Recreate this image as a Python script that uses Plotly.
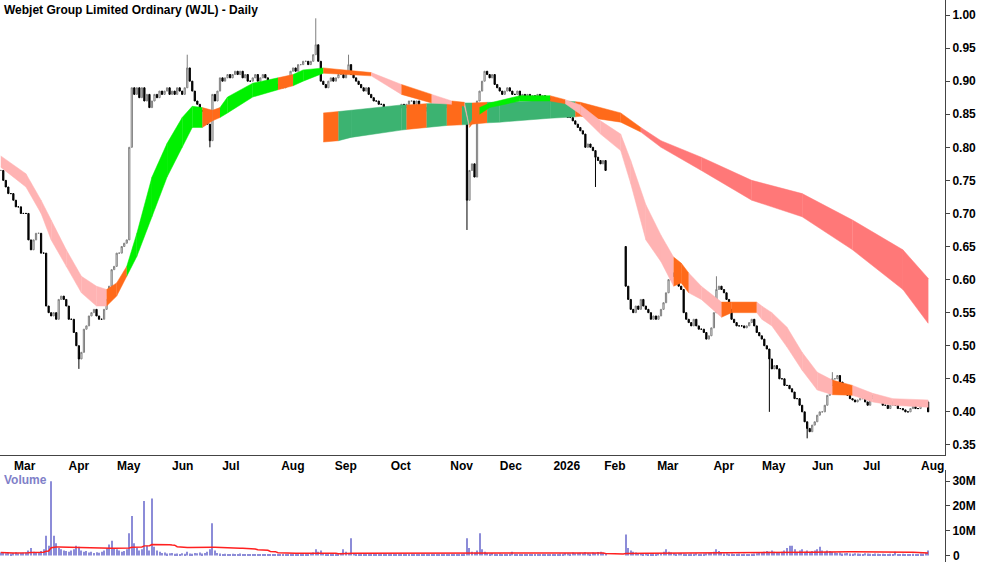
import pandas as pd
import plotly.graph_objects as go

TITLE = "Webjet Group Limited Ordinary (WJL) - Daily"

# daily closes, one row per 10 trading days (None = trading halt)
close = [
    .765, .75, .74, .73, .73, .72, .71, .71, .70, .70,
    .70, .66, .645, .66, .67, .67, .64, .64, .56, .55,
    .545, .55, .54, .57, .575, .57, .56, .54, .54, .52,
    .50, .48, .49, .525, .53, .545, .55, .555, .545, .54,
    .54, .555, .57, .59, .615, .62, .64, .64, .65, .655,
    .66, .80, .89, .88, .89, .875, .89, .87, .88, .86,
    .87, .88, .875, .885, .88, .885, .89, .88, .885, .88,
    .89, .885, .88, .89, .92, .90, .885, .87, .865, .855,
    .855, .845, .835, .81, .88, .87, .885, .905, .90, .905,
    .91, .905, .91, .915, .91, .915, .905, .91, .90, .90,
    .905, .91, .90, .905, .91, .905, .90, .895, .90, .895,
    .89, .895, .89, .895, .905, .915, .92, .915, .925, .925,
    .93, .93, .925, .93, .94, .955, .93, .90, .895, .89,
    .90, .905, .90, .905, .91, .91, .905, .915, .925, .91,
    .905, .90, .895, .89, .885, .89, .88, .875, .87, .87,
    .865, .865, .86, .86, .855, .85, .85, .855, .86, .865,
    .86, .865, .87, .87, .865, .87, .86, .86, .855, .86,
    .855, .855, .86, .855, .86, .865, .86, .865, .86, .865,
    .86, .855, .86, .865, .86, .72, .765, .775, .755, .87,
    .885, .90, .915, .91, .905, .91, .895, .89, .885, .88,
    .885, .89, .885, .88, .88, .885, .875, .88, .875, .88,
    .875, .878, .875, .88, .875, .878, .875, .875, .87, .87,
    .865, .86, .855, .86, .85, .845, .845, .84, .835, .83,
    .825, .82, .80, .805, .80, .795, .785, .78, .775, .78,
    .765, None, None, None, None, None, None, None, .59, .57,
    .555, .55, .56, .555, .57, .56, .555, .55, .54, .545,
    .54, .545, .555, .565, .58, .60, .61, .605, .61, .59,
    .585, .55, .54, .535, .53, .54, .53, .525, .525, .52,
    .51, .515, .527, .55, .585, .59, .585, .58, .57, .555,
    .54, .535, .53, .53, .53, .527, .53, .535, .54, .53,
    .52, .515, .51, .50, .495, .48, .465, .47, .465, .45,
    .45, .44, .44, .435, .43, .42, .42, .41, .40, .385,
    .375, .37, .38, .385, .395, .40, .40, .41, .425, .44,
    .45, .45, .455, .445, .44, .43, .425, .42, .418, .415,
    .418, .42, .42, .415, .41, .42, .425, .42, .42, .415,
    .41, .41, .405, .41, .415, .41, .405, .405, .403, .40,
    .40, .405, .408, .405, .405, .41, .41, .415, .40,
]
gap_open = {185: .86, 248: .65, 51: .66}
extreme_high = {125: .995, 74: .94, 138: .94, 248: .65, 284: .605, 330: .46}
extreme_low = {31: .465, 185: .675, 236: .74, 320: .36, 83: .80, 305: .40}

# volume in millions
volume = [
    1.2, 1.0, 0.9, 1.1, 0.8, 1.0, 1.3, 0.9, 1.0, 1.1,
    1.2, 2.0, 3.0, 1.5, 1.0, 1.2, 1.8, 2.5, 8.0, 4.0,
    30.0, 8.0, 5.0, 3.0, 2.5, 2.0, 1.8, 1.5, 2.0, 2.5,
    4.0, 3.5, 2.0, 1.5, 1.8, 1.2, 1.5, 1.0, 1.3, 1.1,
    1.5, 2.0, 3.0, 4.5, 6.0, 3.0, 2.5, 2.0, 1.5, 1.8,
    2.5, 9.0, 16.0, 5.0, 3.0, 2.0, 2.5, 22.0, 4.0, 2.0,
    23.0, 3.5, 2.0, 1.5, 1.0, 1.2, 0.8, 0.9, 1.0, 0.7,
    0.8, 0.6, 0.9, 0.7, 1.5, 0.8, 0.7, 1.0, 0.9, 1.2,
    0.8, 1.0, 1.5, 2.5, 13.0, 2.0, 1.0, 0.8, 0.6, 0.7,
    0.6, 0.5, 0.7, 0.6, 0.5, 0.8, 0.6, 0.5, 0.4, 0.6,
    0.5, 0.4, 0.6, 0.5, 0.4, 0.5, 0.3, 0.4, 0.5, 0.4,
    0.5, 0.4, 0.3, 0.5, 0.6, 0.7, 0.5, 0.4, 0.6, 0.8,
    0.6, 0.5, 0.7, 0.9, 1.2, 2.5, 1.5, 2.0, 1.0, 0.8,
    0.6, 0.7, 0.5, 0.6, 0.8, 1.0, 2.5, 1.5, 1.0, 7.0,
    1.0, 0.8, 0.6, 0.5, 0.7, 0.5, 0.4, 0.6, 0.5, 0.4,
    0.5, 0.4, 0.6, 0.5, 0.4, 0.7, 0.5, 0.6, 0.4, 0.5,
    0.4, 0.6, 0.5, 0.4, 0.5, 0.6, 0.5, 0.4, 0.6, 0.5,
    0.4, 0.5, 0.6, 0.4, 0.5, 0.4, 0.6, 0.5, 0.4, 0.5,
    0.5, 0.4, 0.6, 0.5, 0.8, 7.0, 3.0, 1.5, 1.2, 2.0,
    9.0, 2.5, 1.5, 1.0, 0.8, 1.0, 0.7, 0.6, 0.8, 0.5,
    0.6, 0.5, 0.7, 1.5, 0.6, 0.5, 0.4, 0.6, 0.5, 0.4,
    0.5, 0.6, 0.4, 0.5, 0.4, 0.3, 0.5, 0.4, 0.6, 0.5,
    0.5, 0.6, 0.8, 0.7, 1.0, 0.9, 0.8, 1.2, 0.9, 1.0,
    1.1, 0.9, 1.3, 1.0, 0.8, 1.2, 1.0, 1.4, 1.5, 1.1,
    1.0, 0, 0, 0, 0, 0, 0, 0, 8.5, 3.0,
    2.0, 1.5, 1.2, 1.0, 0.9, 0.8, 1.0, 0.7, 0.6, 0.8,
    0.7, 0.9, 1.0, 1.5, 2.5, 1.5, 1.2, 1.0, 0.8, 0.9,
    1.0, 0.8, 0.7, 0.6, 0.8, 0.7, 0.9, 0.6, 0.7, 0.8,
    0.9, 1.0, 1.2, 1.5, 2.5, 1.8, 1.0, 0.8, 0.9, 0.7,
    0.8, 0.6, 0.7, 0.8, 0.6, 0.7, 0.5, 0.6, 0.7, 0.8,
    0.9, 1.0, 1.2, 1.5, 1.8, 1.5, 2.0, 1.5, 1.2, 1.0,
    1.5, 2.0, 3.0, 4.0, 4.0, 2.5, 1.5, 2.0, 2.5, 1.5,
    2.0, 1.5, 1.8, 2.0, 2.5, 3.5, 2.0, 1.5, 2.0, 1.8,
    1.5, 1.2, 1.0, 1.2, 0.8, 0.9, 1.0, 0.8, 0.7, 0.9,
    0.8, 0.7, 0.6, 0.9, 0.8, 0.7, 0.6, 0.8, 0.7, 0.6,
    0.7, 0.6, 0.5, 0.7, 0.6, 1.5, 0.6, 0.5, 0.7, 0.6,
    0.5, 0.6, 0.7, 0.5, 0.6, 0.8, 0.7, 1.0, 2.0,
]

# short-term ribbon (band edges at sample bars), colour per segment
short_idx = [0, 10, 16, 20, 26, 32, 38, 42, 46, 50, 54, 60, 66, 72, 76, 80, 84, 87, 90, 100,
             110, 116, 120, 128, 147, 159, 171, 179, 184, 186, 190, 194, 206, 218, 224, 230, 238, 246, 250, 256,
             262, 267, 270, 273, 278, 286, 290, 300, 302, 306, 312, 318, 324, 330, 338, 346, 354, 368]
short_top = [.787, .76, .72, .69, .645, .605, .59, .585, .595, .62, .67, .755, .806, .845, .862, .86, .856, .86, .876, .897,
             .905, .91, .917, .92, .913, .895, .88, .87, .868, .835, .86, .867, .878, .878, .872, .864, .84, .82, .78, .713,
             .667, .634, .625, .61, .59, .566, .566, .566, .56, .55, .528, .49, .46, .448, .44, .428, .42, .418]
short_bot = [.77, .74, .70, .66, .62, .58, .56, .56, .575, .605, .635, .695, .755, .80, .83, .83, .84, .845, .852, .876,
             .887, .893, .90, .912, .908, .88, .867, .865, .862, .83, .85, .86, .87, .87, .866, .85, .82, .795, .745, .66,
             .627, .59, .595, .58, .57, .543, .55, .55, .54, .53, .498, .463, .433, .426, .425, .415, .41, .407]
short_col = "PPPPPPPOOGGGGGGOOGGGOGGOPOPOPOGGGOPPPPPPPOOPPOOPPPPPPOPPP"

long_idx = [128, 134, 139, 159, 161, 169, 177, 183, 187, 193, 198, 218, 228, 230, 246, 254, 262, 278, 298, 318, 338, 358, 368]
long_top = [.852, .854, .856, .864, .864, .866, .867, .867, .867, .868, .868, .871, .869, .868, .852, .83, .81, .785, .75, .73, .69, .645, .602]
long_bot = [.808, .81, .815, .826, .827, .830, .833, .834, .835, .837, .838, .844, .846, .847, .838, .823, .80, .765, .72, .695, .645, .585, .534]
long_col = "OGGGOGOGOGGGOOORRRRRRR"

# month labels and the trading bar they sit over
month_text = ["Mar", "Apr", "May", "Jun", "Jul", "Aug", "Sep", "Oct", "Nov", "Dec",
              "2026", "Feb", "Mar", "Apr", "May", "Jun", "Jul", "Aug"]
month_bar = [9.5, 31, 50.8, 72.2, 91.3, 115.9, 136.9, 158.7, 182.9, 202.4,
             224.6, 243.7, 264.7, 286.9, 306.7, 326.2, 345.6, 369.8]

COLORS = {"P": "#ffb3b3", "O": "#ff6a1a", "G": "#00f000", "D": "#3cb371", "R": "#ff7878"}

bars = list(range(len(close)))
vol = pd.Series(volume[:len(close)], dtype=float) * 1e6

opens, highs, lows = [], [], []
prev = close[0]
for i, c in enumerate(close):
    if c is None:
        opens.append(None); highs.append(None); lows.append(None)
        continue
    o = gap_open.get(i, prev)
    opens.append(o)
    highs.append(extreme_high.get(i, max(o, c)))
    lows.append(extreme_low.get(i, min(o, c)))
    prev = c

fig = go.Figure()


def add_ribbon(idx, top, bot, cols, longterm=False):
    for k in range(len(idx) - 1):
        a, b = idx[k], idx[k + 1]
        col = cols[k]
        if longterm and col == "G":
            col = "D"
        fig.add_trace(go.Scatter(
            x=[a, b, b, a], y=[top[k], top[k + 1], bot[k + 1], bot[k]],
            fill="toself", fillcolor=COLORS[col], mode="lines",
            line=dict(width=0.5, color=COLORS[col]), hoverinfo="skip",
            showlegend=False, xaxis="x", yaxis="y"))


add_ribbon(long_idx, long_top, long_bot, long_col, True)
add_ribbon(short_idx, short_top, short_bot, short_col)

fig.add_trace(go.Candlestick(
    x=bars, open=opens, high=highs, low=lows, close=close,
    increasing=dict(fillcolor="white", line=dict(color="#7f7f7f", width=1)),
    decreasing=dict(fillcolor="black", line=dict(color="black", width=1)),
    whiskerwidth=0, showlegend=False, xaxis="x", yaxis="y"))

fig.add_trace(go.Bar(x=bars, y=vol, marker=dict(color="#8c8cd8", line=dict(width=0)),
                     width=0.4, showlegend=False, xaxis="x2", yaxis="y2"))
fig.add_trace(go.Scatter(x=bars, y=vol.rolling(50, min_periods=1).mean(), mode="lines",
                         line=dict(color="#ff2020", width=1.5), showlegend=False,
                         xaxis="x2", yaxis="y2"))

xrange = [-0.3, 374.7]
bold = dict(family="Liberation Sans, Arial", size=12, color="black", weight="bold")

fig.update_layout(
    width=1000, height=562, paper_bgcolor="white", plot_bgcolor="white",
    margin=dict(l=0, r=55, t=0, b=0), font=bold,
    xaxis=dict(domain=[0, 1], range=xrange, anchor="y",
               tickvals=month_bar, ticktext=month_text, ticks="", showgrid=False,
               showline=True, linecolor="#444", rangeslider=dict(visible=False),
               tickfont=bold),
    yaxis=dict(domain=[0.1904, 1], range=[0.3348, 1.0227], side="right",
               tickvals=[0.35 + 0.05 * k for k in range(14)], tickformat=".2f",
               ticks="outside", ticklen=4, showgrid=False, showline=True,
               linecolor="#444", zeroline=False, tickfont=bold),
    xaxis2=dict(domain=[0, 1], range=xrange, anchor="y2",
                matches="x", showticklabels=False, showgrid=False, ticks=""),
    yaxis2=dict(domain=[0.0, 0.1637], range=[-2.6e6, 34.5e6], side="right",
                tickvals=[0, 10e6, 20e6, 30e6], ticktext=["", "10M", "20M", "30M"],
                ticks="outside", ticklen=4, showgrid=False, showline=True,
                linecolor="#444", zeroline=False, tickfont=bold),
    annotations=[
        dict(text=TITLE, x=0.002, y=0.998, xref="paper", yref="paper",
             xanchor="left", yanchor="top", showarrow=False, font=bold),
        dict(text="Volume", x=0.002, y=0.162, xref="paper", yref="paper",
             xanchor="left", yanchor="top", showarrow=False,
             font=dict(bold, color="#8080c8")),
        dict(text="0", x=1, xshift=6, y=0, xref="paper", yref="y2",
             xanchor="left", yanchor="middle", showarrow=False, font=bold),
    ],
)

fig.write_html("out.html", config={"displayModeBar": False},
               post_script="document.body.style.margin='0';")
